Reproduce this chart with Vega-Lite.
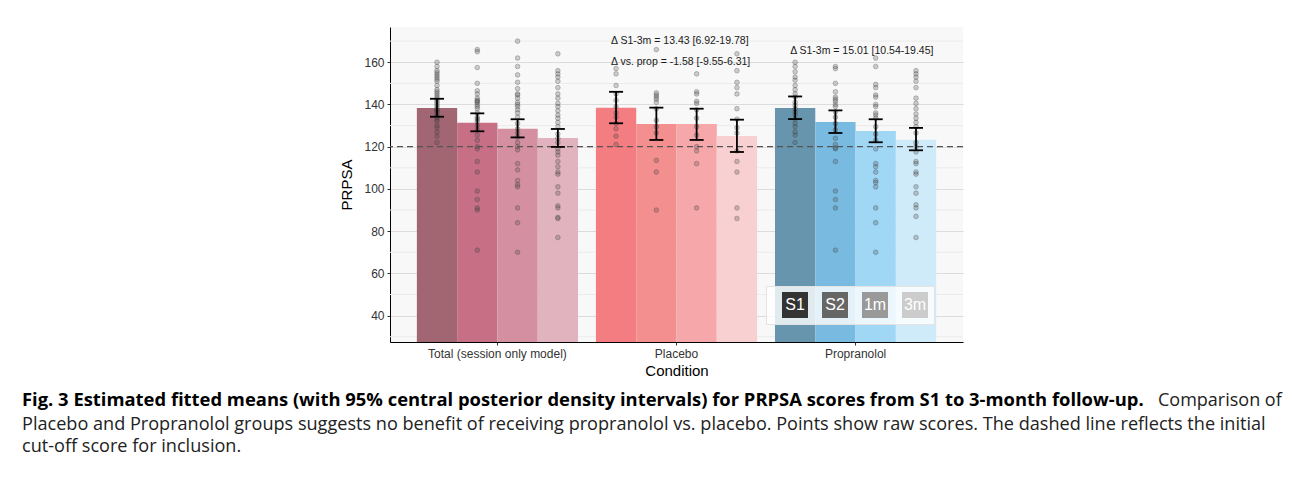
{
"$schema": "https://vega.github.io/schema/vega-lite/v6.json",
"background": "white",
"padding": {"left": 22, "top": 27, "right": 5, "bottom": 5},
"config": {"font": "Liberation Sans", "view": {"stroke": null}},
"resolve": {"scale": {"fill": "independent", "color": "independent"}, "legend": {"fill": "independent", "color": "independent"}},
"datasets": {
"means": [
{"condition": "Total (session only model)", "session": "S1", "bar": "T-S1", "mean": 138.3, "lo": 134.2, "hi": 142.7},
{"condition": "Total (session only model)", "session": "S2", "bar": "T-S2", "mean": 131.4, "lo": 127.3, "hi": 135.8},
{"condition": "Total (session only model)", "session": "1m", "bar": "T-1m", "mean": 128.5, "lo": 124.4, "hi": 133.0},
{"condition": "Total (session only model)", "session": "3m", "bar": "T-3m", "mean": 124.1, "lo": 119.9, "hi": 128.4},
{"condition": "Placebo", "session": "S1", "bar": "P-S1", "mean": 138.5, "lo": 131.1, "hi": 146.0},
{"condition": "Placebo", "session": "S2", "bar": "P-S2", "mean": 130.7, "lo": 123.2, "hi": 138.5},
{"condition": "Placebo", "session": "1m", "bar": "P-1m", "mean": 130.7, "lo": 123.2, "hi": 138.0},
{"condition": "Placebo", "session": "3m", "bar": "P-3m", "mean": 125.1, "lo": 117.5, "hi": 132.8},
{"condition": "Propranolol", "session": "S1", "bar": "R-S1", "mean": 138.3, "lo": 133.1, "hi": 143.8},
{"condition": "Propranolol", "session": "S2", "bar": "R-S2", "mean": 131.7, "lo": 126.5, "hi": 137.2},
{"condition": "Propranolol", "session": "1m", "bar": "R-1m", "mean": 127.4, "lo": 122.1, "hi": 133.0},
{"condition": "Propranolol", "session": "3m", "bar": "R-3m", "mean": 123.3, "lo": 118.3, "hi": 128.9}
],
"notes": [
{"condition": "Placebo", "session": "S1", "y": 170.2, "label": "Δ S1-3m = 13.43 [6.92-19.78]"},
{"condition": "Placebo", "session": "S1", "y": 160.0, "label": "Δ vs. prop = -1.58 [-9.55-6.31]"},
{"condition": "Propranolol", "session": "S1", "y": 165.1, "label": "Δ S1-3m = 15.01 [10.54-19.45]"}
],
"minorgrid": [{"g": 30}, {"g": 50}, {"g": 70}, {"g": 90}, {"g": 110}, {"g": 130}, {"g": 150}, {"g": 170}],
"legend": [{"session": "S1"}, {"session": "S2"}, {"session": "1m"}, {"session": "3m"}],
"raw": [
{"condition": "Total (session only model)", "session": "S1", "score": 160},
{"condition": "Total (session only model)", "session": "S1", "score": 158},
{"condition": "Total (session only model)", "session": "S1", "score": 156},
{"condition": "Total (session only model)", "session": "S1", "score": 155},
{"condition": "Total (session only model)", "session": "S1", "score": 154},
{"condition": "Total (session only model)", "session": "S1", "score": 153},
{"condition": "Total (session only model)", "session": "S1", "score": 152},
{"condition": "Total (session only model)", "session": "S1", "score": 151},
{"condition": "Total (session only model)", "session": "S1", "score": 149},
{"condition": "Total (session only model)", "session": "S1", "score": 147},
{"condition": "Total (session only model)", "session": "S1", "score": 146},
{"condition": "Total (session only model)", "session": "S1", "score": 145},
{"condition": "Total (session only model)", "session": "S1", "score": 144},
{"condition": "Total (session only model)", "session": "S1", "score": 143},
{"condition": "Total (session only model)", "session": "S1", "score": 142},
{"condition": "Total (session only model)", "session": "S1", "score": 141},
{"condition": "Total (session only model)", "session": "S1", "score": 140},
{"condition": "Total (session only model)", "session": "S1", "score": 139},
{"condition": "Total (session only model)", "session": "S1", "score": 138},
{"condition": "Total (session only model)", "session": "S1", "score": 137},
{"condition": "Total (session only model)", "session": "S1", "score": 137},
{"condition": "Total (session only model)", "session": "S1", "score": 136},
{"condition": "Total (session only model)", "session": "S1", "score": 135},
{"condition": "Total (session only model)", "session": "S1", "score": 134},
{"condition": "Total (session only model)", "session": "S1", "score": 133},
{"condition": "Total (session only model)", "session": "S1", "score": 132},
{"condition": "Total (session only model)", "session": "S1", "score": 130},
{"condition": "Total (session only model)", "session": "S1", "score": 129},
{"condition": "Total (session only model)", "session": "S1", "score": 127},
{"condition": "Total (session only model)", "session": "S1", "score": 125},
{"condition": "Total (session only model)", "session": "S1", "score": 122},
{"condition": "Total (session only model)", "session": "S2", "score": 166},
{"condition": "Total (session only model)", "session": "S2", "score": 165},
{"condition": "Total (session only model)", "session": "S2", "score": 157.5},
{"condition": "Total (session only model)", "session": "S2", "score": 150},
{"condition": "Total (session only model)", "session": "S2", "score": 146.5},
{"condition": "Total (session only model)", "session": "S2", "score": 145},
{"condition": "Total (session only model)", "session": "S2", "score": 143},
{"condition": "Total (session only model)", "session": "S2", "score": 142},
{"condition": "Total (session only model)", "session": "S2", "score": 141.5},
{"condition": "Total (session only model)", "session": "S2", "score": 141},
{"condition": "Total (session only model)", "session": "S2", "score": 140},
{"condition": "Total (session only model)", "session": "S2", "score": 139},
{"condition": "Total (session only model)", "session": "S2", "score": 138},
{"condition": "Total (session only model)", "session": "S2", "score": 136},
{"condition": "Total (session only model)", "session": "S2", "score": 134},
{"condition": "Total (session only model)", "session": "S2", "score": 133},
{"condition": "Total (session only model)", "session": "S2", "score": 132},
{"condition": "Total (session only model)", "session": "S2", "score": 130},
{"condition": "Total (session only model)", "session": "S2", "score": 128},
{"condition": "Total (session only model)", "session": "S2", "score": 125.5},
{"condition": "Total (session only model)", "session": "S2", "score": 123},
{"condition": "Total (session only model)", "session": "S2", "score": 120},
{"condition": "Total (session only model)", "session": "S2", "score": 119},
{"condition": "Total (session only model)", "session": "S2", "score": 113},
{"condition": "Total (session only model)", "session": "S2", "score": 108},
{"condition": "Total (session only model)", "session": "S2", "score": 99},
{"condition": "Total (session only model)", "session": "S2", "score": 95},
{"condition": "Total (session only model)", "session": "S2", "score": 91},
{"condition": "Total (session only model)", "session": "S2", "score": 90},
{"condition": "Total (session only model)", "session": "S2", "score": 71},
{"condition": "Total (session only model)", "session": "1m", "score": 170},
{"condition": "Total (session only model)", "session": "1m", "score": 162},
{"condition": "Total (session only model)", "session": "1m", "score": 158},
{"condition": "Total (session only model)", "session": "1m", "score": 154},
{"condition": "Total (session only model)", "session": "1m", "score": 150.5},
{"condition": "Total (session only model)", "session": "1m", "score": 147.5},
{"condition": "Total (session only model)", "session": "1m", "score": 145},
{"condition": "Total (session only model)", "session": "1m", "score": 144.5},
{"condition": "Total (session only model)", "session": "1m", "score": 143},
{"condition": "Total (session only model)", "session": "1m", "score": 141},
{"condition": "Total (session only model)", "session": "1m", "score": 140},
{"condition": "Total (session only model)", "session": "1m", "score": 139},
{"condition": "Total (session only model)", "session": "1m", "score": 137.5},
{"condition": "Total (session only model)", "session": "1m", "score": 136},
{"condition": "Total (session only model)", "session": "1m", "score": 134},
{"condition": "Total (session only model)", "session": "1m", "score": 131},
{"condition": "Total (session only model)", "session": "1m", "score": 128.5},
{"condition": "Total (session only model)", "session": "1m", "score": 126.5},
{"condition": "Total (session only model)", "session": "1m", "score": 124.5},
{"condition": "Total (session only model)", "session": "1m", "score": 122},
{"condition": "Total (session only model)", "session": "1m", "score": 120},
{"condition": "Total (session only model)", "session": "1m", "score": 118.5},
{"condition": "Total (session only model)", "session": "1m", "score": 112},
{"condition": "Total (session only model)", "session": "1m", "score": 109},
{"condition": "Total (session only model)", "session": "1m", "score": 104},
{"condition": "Total (session only model)", "session": "1m", "score": 102},
{"condition": "Total (session only model)", "session": "1m", "score": 101},
{"condition": "Total (session only model)", "session": "1m", "score": 91},
{"condition": "Total (session only model)", "session": "1m", "score": 84},
{"condition": "Total (session only model)", "session": "1m", "score": 70},
{"condition": "Total (session only model)", "session": "3m", "score": 164},
{"condition": "Total (session only model)", "session": "3m", "score": 156},
{"condition": "Total (session only model)", "session": "3m", "score": 154.5},
{"condition": "Total (session only model)", "session": "3m", "score": 153},
{"condition": "Total (session only model)", "session": "3m", "score": 151},
{"condition": "Total (session only model)", "session": "3m", "score": 148},
{"condition": "Total (session only model)", "session": "3m", "score": 145},
{"condition": "Total (session only model)", "session": "3m", "score": 143},
{"condition": "Total (session only model)", "session": "3m", "score": 140.5},
{"condition": "Total (session only model)", "session": "3m", "score": 139},
{"condition": "Total (session only model)", "session": "3m", "score": 137},
{"condition": "Total (session only model)", "session": "3m", "score": 135},
{"condition": "Total (session only model)", "session": "3m", "score": 133.5},
{"condition": "Total (session only model)", "session": "3m", "score": 131.5},
{"condition": "Total (session only model)", "session": "3m", "score": 129.5},
{"condition": "Total (session only model)", "session": "3m", "score": 126},
{"condition": "Total (session only model)", "session": "3m", "score": 124},
{"condition": "Total (session only model)", "session": "3m", "score": 122},
{"condition": "Total (session only model)", "session": "3m", "score": 119},
{"condition": "Total (session only model)", "session": "3m", "score": 117.5},
{"condition": "Total (session only model)", "session": "3m", "score": 116},
{"condition": "Total (session only model)", "session": "3m", "score": 113},
{"condition": "Total (session only model)", "session": "3m", "score": 110.5},
{"condition": "Total (session only model)", "session": "3m", "score": 108},
{"condition": "Total (session only model)", "session": "3m", "score": 107},
{"condition": "Total (session only model)", "session": "3m", "score": 101},
{"condition": "Total (session only model)", "session": "3m", "score": 98},
{"condition": "Total (session only model)", "session": "3m", "score": 92},
{"condition": "Total (session only model)", "session": "3m", "score": 91},
{"condition": "Total (session only model)", "session": "3m", "score": 86.5},
{"condition": "Total (session only model)", "session": "3m", "score": 86},
{"condition": "Total (session only model)", "session": "3m", "score": 77},
{"condition": "Placebo", "session": "S1", "score": 157},
{"condition": "Placebo", "session": "S1", "score": 154.5},
{"condition": "Placebo", "session": "S1", "score": 149},
{"condition": "Placebo", "session": "S1", "score": 145},
{"condition": "Placebo", "session": "S1", "score": 142},
{"condition": "Placebo", "session": "S1", "score": 139},
{"condition": "Placebo", "session": "S1", "score": 136},
{"condition": "Placebo", "session": "S1", "score": 134},
{"condition": "Placebo", "session": "S1", "score": 131},
{"condition": "Placebo", "session": "S1", "score": 128.5},
{"condition": "Placebo", "session": "S1", "score": 125},
{"condition": "Placebo", "session": "S1", "score": 121},
{"condition": "Placebo", "session": "S2", "score": 166},
{"condition": "Placebo", "session": "S2", "score": 145.5},
{"condition": "Placebo", "session": "S2", "score": 144.5},
{"condition": "Placebo", "session": "S2", "score": 143.5},
{"condition": "Placebo", "session": "S2", "score": 142.5},
{"condition": "Placebo", "session": "S2", "score": 141},
{"condition": "Placebo", "session": "S2", "score": 138},
{"condition": "Placebo", "session": "S2", "score": 132.5},
{"condition": "Placebo", "session": "S2", "score": 129.5},
{"condition": "Placebo", "session": "S2", "score": 126.5},
{"condition": "Placebo", "session": "S2", "score": 113.5},
{"condition": "Placebo", "session": "S2", "score": 108},
{"condition": "Placebo", "session": "S2", "score": 90},
{"condition": "Placebo", "session": "1m", "score": 154.5},
{"condition": "Placebo", "session": "1m", "score": 146},
{"condition": "Placebo", "session": "1m", "score": 145},
{"condition": "Placebo", "session": "1m", "score": 141.5},
{"condition": "Placebo", "session": "1m", "score": 140.5},
{"condition": "Placebo", "session": "1m", "score": 137.5},
{"condition": "Placebo", "session": "1m", "score": 133.5},
{"condition": "Placebo", "session": "1m", "score": 129.5},
{"condition": "Placebo", "session": "1m", "score": 125.5},
{"condition": "Placebo", "session": "1m", "score": 120},
{"condition": "Placebo", "session": "1m", "score": 118},
{"condition": "Placebo", "session": "1m", "score": 112},
{"condition": "Placebo", "session": "1m", "score": 91},
{"condition": "Placebo", "session": "3m", "score": 164},
{"condition": "Placebo", "session": "3m", "score": 156},
{"condition": "Placebo", "session": "3m", "score": 150.5},
{"condition": "Placebo", "session": "3m", "score": 148},
{"condition": "Placebo", "session": "3m", "score": 145},
{"condition": "Placebo", "session": "3m", "score": 138},
{"condition": "Placebo", "session": "3m", "score": 133},
{"condition": "Placebo", "session": "3m", "score": 129},
{"condition": "Placebo", "session": "3m", "score": 126.5},
{"condition": "Placebo", "session": "3m", "score": 118},
{"condition": "Placebo", "session": "3m", "score": 113},
{"condition": "Placebo", "session": "3m", "score": 108},
{"condition": "Placebo", "session": "3m", "score": 91},
{"condition": "Placebo", "session": "3m", "score": 86},
{"condition": "Propranolol", "session": "S1", "score": 160},
{"condition": "Propranolol", "session": "S1", "score": 158},
{"condition": "Propranolol", "session": "S1", "score": 155.5},
{"condition": "Propranolol", "session": "S1", "score": 153},
{"condition": "Propranolol", "session": "S1", "score": 151.5},
{"condition": "Propranolol", "session": "S1", "score": 149},
{"condition": "Propranolol", "session": "S1", "score": 147},
{"condition": "Propranolol", "session": "S1", "score": 145},
{"condition": "Propranolol", "session": "S1", "score": 143.5},
{"condition": "Propranolol", "session": "S1", "score": 141},
{"condition": "Propranolol", "session": "S1", "score": 139.5},
{"condition": "Propranolol", "session": "S1", "score": 138},
{"condition": "Propranolol", "session": "S1", "score": 136.5},
{"condition": "Propranolol", "session": "S1", "score": 135},
{"condition": "Propranolol", "session": "S1", "score": 133},
{"condition": "Propranolol", "session": "S1", "score": 131},
{"condition": "Propranolol", "session": "S1", "score": 129.5},
{"condition": "Propranolol", "session": "S1", "score": 127},
{"condition": "Propranolol", "session": "S1", "score": 125.5},
{"condition": "Propranolol", "session": "S1", "score": 122},
{"condition": "Propranolol", "session": "S2", "score": 158},
{"condition": "Propranolol", "session": "S2", "score": 157},
{"condition": "Propranolol", "session": "S2", "score": 150},
{"condition": "Propranolol", "session": "S2", "score": 146},
{"condition": "Propranolol", "session": "S2", "score": 143.5},
{"condition": "Propranolol", "session": "S2", "score": 142.5},
{"condition": "Propranolol", "session": "S2", "score": 141.5},
{"condition": "Propranolol", "session": "S2", "score": 140},
{"condition": "Propranolol", "session": "S2", "score": 139},
{"condition": "Propranolol", "session": "S2", "score": 136.5},
{"condition": "Propranolol", "session": "S2", "score": 134},
{"condition": "Propranolol", "session": "S2", "score": 131},
{"condition": "Propranolol", "session": "S2", "score": 128},
{"condition": "Propranolol", "session": "S2", "score": 124},
{"condition": "Propranolol", "session": "S2", "score": 121},
{"condition": "Propranolol", "session": "S2", "score": 119.5},
{"condition": "Propranolol", "session": "S2", "score": 119},
{"condition": "Propranolol", "session": "S2", "score": 113},
{"condition": "Propranolol", "session": "S2", "score": 99},
{"condition": "Propranolol", "session": "S2", "score": 95},
{"condition": "Propranolol", "session": "S2", "score": 91},
{"condition": "Propranolol", "session": "S2", "score": 71},
{"condition": "Propranolol", "session": "1m", "score": 162},
{"condition": "Propranolol", "session": "1m", "score": 158},
{"condition": "Propranolol", "session": "1m", "score": 149.5},
{"condition": "Propranolol", "session": "1m", "score": 148},
{"condition": "Propranolol", "session": "1m", "score": 144.5},
{"condition": "Propranolol", "session": "1m", "score": 143.5},
{"condition": "Propranolol", "session": "1m", "score": 140},
{"condition": "Propranolol", "session": "1m", "score": 139},
{"condition": "Propranolol", "session": "1m", "score": 136},
{"condition": "Propranolol", "session": "1m", "score": 135},
{"condition": "Propranolol", "session": "1m", "score": 133.5},
{"condition": "Propranolol", "session": "1m", "score": 129.5},
{"condition": "Propranolol", "session": "1m", "score": 126},
{"condition": "Propranolol", "session": "1m", "score": 123},
{"condition": "Propranolol", "session": "1m", "score": 119},
{"condition": "Propranolol", "session": "1m", "score": 112},
{"condition": "Propranolol", "session": "1m", "score": 110.5},
{"condition": "Propranolol", "session": "1m", "score": 108},
{"condition": "Propranolol", "session": "1m", "score": 104},
{"condition": "Propranolol", "session": "1m", "score": 103},
{"condition": "Propranolol", "session": "1m", "score": 101},
{"condition": "Propranolol", "session": "1m", "score": 91},
{"condition": "Propranolol", "session": "1m", "score": 84},
{"condition": "Propranolol", "session": "1m", "score": 70},
{"condition": "Propranolol", "session": "3m", "score": 156},
{"condition": "Propranolol", "session": "3m", "score": 154.5},
{"condition": "Propranolol", "session": "3m", "score": 153},
{"condition": "Propranolol", "session": "3m", "score": 151},
{"condition": "Propranolol", "session": "3m", "score": 148},
{"condition": "Propranolol", "session": "3m", "score": 143},
{"condition": "Propranolol", "session": "3m", "score": 140.5},
{"condition": "Propranolol", "session": "3m", "score": 138},
{"condition": "Propranolol", "session": "3m", "score": 135.5},
{"condition": "Propranolol", "session": "3m", "score": 133.5},
{"condition": "Propranolol", "session": "3m", "score": 131.5},
{"condition": "Propranolol", "session": "3m", "score": 129.5},
{"condition": "Propranolol", "session": "3m", "score": 126.5},
{"condition": "Propranolol", "session": "3m", "score": 122},
{"condition": "Propranolol", "session": "3m", "score": 120},
{"condition": "Propranolol", "session": "3m", "score": 117.5},
{"condition": "Propranolol", "session": "3m", "score": 113},
{"condition": "Propranolol", "session": "3m", "score": 112},
{"condition": "Propranolol", "session": "3m", "score": 108},
{"condition": "Propranolol", "session": "3m", "score": 107},
{"condition": "Propranolol", "session": "3m", "score": 101},
{"condition": "Propranolol", "session": "3m", "score": 98},
{"condition": "Propranolol", "session": "3m", "score": 92.5},
{"condition": "Propranolol", "session": "3m", "score": 91},
{"condition": "Propranolol", "session": "3m", "score": 87},
{"condition": "Propranolol", "session": "3m", "score": 77}
]
},
"title": {
"text": "Comparison of",
"orient": "bottom", "anchor": "start", "frame": "group",
"dx": 768, "dy": -65, "offset": 0,
"font": "Open Sans", "fontSize": 18, "fontWeight": "normal", "color": "#222222"
},
"vconcat": [
{
"width": 573,
"height": 315,
"view": {"fill": "#f8f8f8", "stroke": null},
"title": {
"text": "Fig. 3 Estimated fitted means (with 95% central posterior density intervals) for PRPSA scores from S1 to 3-month follow-up.",
"subtitle": ["Placebo and Propranolol groups suggests no benefit of receiving propranolol vs. placebo. Points show raw scores. The dashed line reflects the initial", "cut-off score for inclusion."],
"orient": "bottom", "anchor": "start", "frame": "group",
"dx": -368, "offset": 13,
"font": "Open Sans", "fontSize": 18.4, "fontWeight": "bold", "color": "#000000",
"subtitleFont": "Open Sans", "subtitleFontSize": 18.1, "subtitleColor": "#222222",
"subtitlePadding": 7, "lineHeight": 23, "subtitleLineHeight": 22
},
"encoding": {
"x": {
"field": "condition", "type": "nominal",
"scale": {"domain": ["Total (session only model)", "Placebo", "Propranolol"], "paddingInner": 0.1, "paddingOuter": 0.15},
"axis": {"title": "Condition", "labelAngle": 0, "grid": false, "domainColor": "#000000", "tickColor": "#333333", "tickSize": 3, "labelFontSize": 12, "labelColor": "#333333", "labelPadding": 3, "titleFontSize": 15, "titleFontWeight": "normal", "titleColor": "#000000", "titlePadding": 4}
}
},
"layer": [
{
"data": {"name": "minorgrid"},
"mark": {"type": "rule", "color": "#ebebeb", "strokeWidth": 1},
"encoding": {"x": null, "y": {"field": "g", "type": "quantitative"}}
},
{
"data": {"name": "means"},
"mark": {"type": "bar", "clip": true},
"encoding": {
"xOffset": {"field": "session", "type": "nominal", "scale": {"domain": ["S1", "S2", "1m", "3m"], "paddingInner": 0, "paddingOuter": 0}},
"y": {
"field": "mean", "type": "quantitative",
"scale": {"domain": [27.5, 176.7], "nice": false, "zero": false},
"axis": {
"title": "PRPSA",
"values": [40, 60, 80, 100, 120, 140, 160],
"gridColor": "#dcdcdc",
"tickSize": 3, "tickColor": "#333333", "domainColor": "#000000",
"labelFontSize": 12, "labelColor": "#333333", "labelPadding": 3,
"titleFontSize": 15, "titleFontWeight": "normal", "titleColor": "#000000", "titlePadding": 9
}
},
"color": {
"field": "bar", "type": "nominal", "legend": null,
"scale": {
"domain": ["T-S1", "T-S2", "T-1m", "T-3m", "P-S1", "P-S2", "P-1m", "P-3m", "R-S1", "R-S2", "R-1m", "R-3m"],
"range": ["#a26672", "#c66f85", "#d490a1", "#e0b3be", "#f47d81", "#f48f90", "#f6a7a9", "#f9d0d2", "#6895ae", "#79bbe0", "#9fd7f5", "#cfeaf8"]
}
}
}
},
{
"data": {"name": "raw"},
"mark": {"type": "point", "filled": true, "shape": "circle", "size": 22, "color": "#404040", "fillOpacity": 0.24, "stroke": "#404040", "strokeOpacity": 0.38, "strokeWidth": 0.8},
"encoding": {
"xOffset": {"field": "session", "type": "nominal"},
"y": {"field": "score", "type": "quantitative"}
}
},
{
"data": {"values": [{}]},
"mark": {"type": "rule", "color": "#555555", "strokeDash": [6, 4], "strokeWidth": 1.3},
"encoding": {"x": null, "y": {"datum": 120}}
},
{
"data": {"name": "means"},
"mark": {"type": "rule", "color": "#000000", "strokeWidth": 1.8},
"encoding": {
"xOffset": {"field": "session", "type": "nominal"},
"y": {"field": "lo", "type": "quantitative"},
"y2": {"field": "hi"}
}
},
{
"data": {"name": "means"},
"mark": {"type": "tick", "color": "#000000", "size": 14, "thickness": 1.8, "opacity": 1},
"encoding": {
"xOffset": {"field": "session", "type": "nominal"},
"y": {"field": "lo", "type": "quantitative"}
}
},
{
"data": {"name": "means"},
"mark": {"type": "tick", "color": "#000000", "size": 14, "thickness": 1.8, "opacity": 1},
"encoding": {
"xOffset": {"field": "session", "type": "nominal"},
"y": {"field": "hi", "type": "quantitative"}
}
},
{
"data": {"name": "notes"},
"mark": {"type": "text", "align": "left", "baseline": "middle", "dx": -5, "fontSize": 10.5, "color": "#1a1a1a", "font": "Liberation Sans"},
"encoding": {
"xOffset": {"field": "session", "type": "nominal"},
"y": {"field": "y", "type": "quantitative"},
"text": {"field": "label"}
}
},
{
"data": {"name": "legend"},
"transform": [{"filter": "false"}],
"mark": {"type": "square", "opacity": 1},
"encoding": {
"fill": {
"field": "session", "type": "nominal",
"scale": {"domain": ["S1", "S2", "1m", "3m"], "range": ["#333333", "#666666", "#999999", "#cccccc"]},
"legend": {
"title": null, "orient": "none", "legendX": 376, "legendY": 259, "direction": "horizontal", "columns": 4,
"symbolType": "square", "symbolSize": 676, "symbolStrokeWidth": 0, "symbolOpacity": 1, "symbolOffset": 10,
"labelColor": "#ffffff", "labelFontSize": 16, "labelAlign": "center", "labelOffset": -13, "labelFont": "Liberation Sans",
"columnPadding": 4, "padding": 6, "fillColor": "rgba(255,255,255,0.8)", "strokeColor": "#e3e3e3"
}
}
}
}
]
}
]
}
